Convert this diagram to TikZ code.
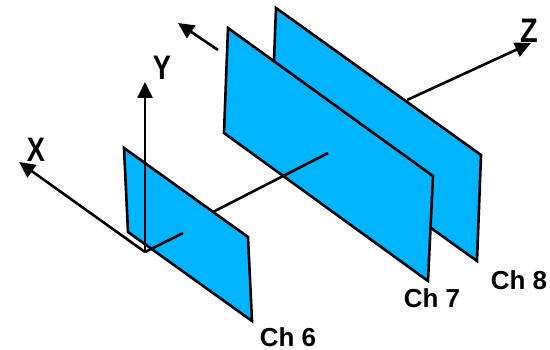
\documentclass[tikz,border=0pt]{standalone}
\usepackage{fontspec}
\setmainfont{Liberation Sans}
\usetikzlibrary{arrows.meta}
\definecolor{panelblue}{RGB}{0,180,255}
\tikzset{
  panel/.style={draw=black, fill=panelblue, line width=2.6pt, line join=miter},
  axis/.style={draw=black, line width=2.6pt},
  axisarrow/.style={axis, -{Triangle[length=16pt,width=15pt]}},
  axislabel/.style={inner sep=0pt, font=\fontsize{34}{34}\selectfont\bfseries},
  chlabel/.style={inner sep=0pt, font=\fontsize{26}{26}\selectfont\bfseries}
}
\begin{document}
\begin{tikzpicture}[x=1pt, y=-1pt]
\useasboundingbox (0,0) rectangle (550,350);
% axis ends
\coordinate (origin) at (145,252);
\coordinate (xtip) at (19,162);
\coordinate (ytip) at (145,82);
\coordinate (ztip) at (531,43);
\coordinate (zout) at (407,100);
\coordinate (zmid) at (213,212);
\coordinate (zend) at (328,153);
\coordinate (zlow) at (183,233);
\coordinate (arrowtail) at (218,50);
\coordinate (arrowtip) at (178,23);
% ch 8
\draw[panel] (276,8) -- (481,155) -- (477,261) -- (272,114) -- cycle;
\draw[axisarrow] (zout) -- (ztip);
% ch 7
\draw[panel] (228,28) -- (433,176) -- (428,281) -- (224,133) -- cycle;
\draw[axis] (zmid) -- (zend);
% ch 6
\draw[panel] (124,148) -- (248,237) -- (252,321) -- (128,232) -- cycle;
\draw[axis] (origin) -- (zlow);
% axes
\draw[axisarrow] (origin) -- (xtip);
\draw[axisarrow] (origin) -- (ytip);
\draw[axisarrow] (arrowtail) -- (arrowtip);
% labels
\node[axislabel, xscale=0.8] (xlabel) at (36,150) {X};
\node[axislabel, xscale=0.8] (ylabel) at (162,68) {Y};
\node[axislabel, xscale=0.85] (zlabel) at (529,31) {Z};
\node[chlabel] (ch6) at (288,337) {Ch 6};
\node[chlabel] (ch7) at (432,298) {Ch 7};
\node[chlabel] (ch8) at (519,280) {Ch 8};
\end{tikzpicture}
\end{document}
